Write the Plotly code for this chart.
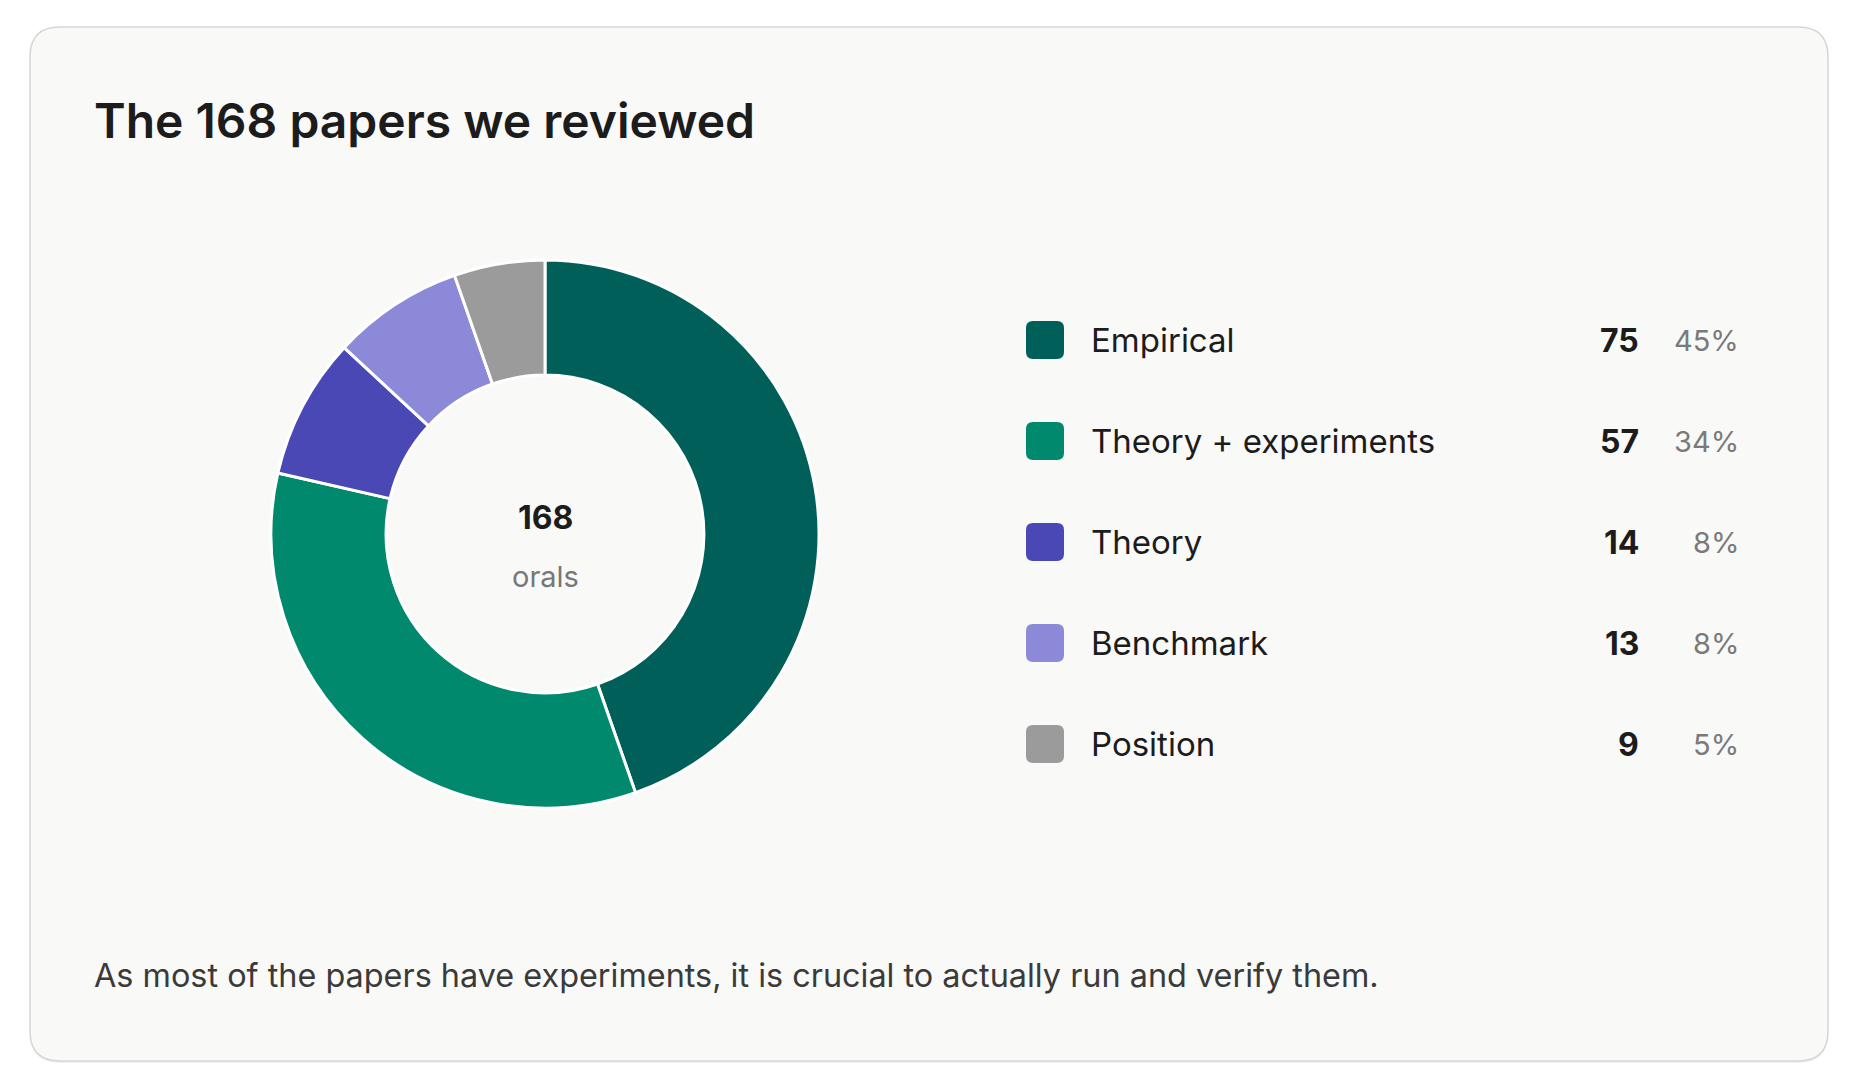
import plotly.graph_objects as go

W, H = 1858, 1092

# ---- data ----
categories = ["Empirical", "Theory + experiments", "Theory", "Benchmark", "Position"]
counts = [75, 57, 14, 13, 9]
colors = ["#015f5a", "#00896d", "#4a48b5", "#8c89d9", "#9b9b9b"]
title_text = "The 168 papers we reviewed"
center_value = "168"
center_label = "orals"
footnote = "As most of the papers have experiments, it is crucial to actually run and verify them."

total = sum(counts)
percents = [f"{round(100 * c / total)}%" for c in counts]

FONT = "Inter, 'Noto Sans', sans-serif"

fig = go.Figure()

# donut geometry (pixels)
cx, cy, r = 545, 534, 274
fig.add_trace(go.Pie(
    labels=categories,
    values=counts,
    marker=dict(colors=colors, line=dict(color="#ffffff", width=3)),
    hole=0.58,
    sort=False,
    direction="clockwise",
    rotation=0,
    textinfo="none",
    hoverinfo="label+value+percent",
    showlegend=False,
    domain=dict(x=[(cx - r) / W, (cx + r) / W], y=[1 - (cy + r) / H, 1 - (cy - r) / H]),
))

def rounded_rect(x0, y0, x1, y1, rad):
    return (f"M {x0+rad},{y0} L {x1-rad},{y0} Q {x1},{y0} {x1},{y0+rad} "
            f"L {x1},{y1-rad} Q {x1},{y1} {x1-rad},{y1} L {x0+rad},{y1} "
            f"Q {x0},{y1} {x0},{y1-rad} L {x0},{y0+rad} Q {x0},{y0} {x0+rad},{y0} Z")

shapes = []
# card shadow + card
shapes.append(dict(type="path", xref="x", yref="y", layer="below",
                   path=rounded_rect(30, 29, 1828, 1063, 30),
                   fillcolor="rgba(0,0,0,0.06)", line=dict(width=0)))
shapes.append(dict(type="path", xref="x", yref="y", layer="below",
                   path=rounded_rect(30, 27, 1828, 1061, 30),
                   fillcolor="#f9f9f8", line=dict(color="#d6d6d6", width=1.5)))

annotations = []
annotations.append(dict(x=96, y=120, xref="x", yref="y", text=title_text, showarrow=False,
                        xanchor="left", yanchor="middle", xshift=-4,
                        font=dict(family=FONT, size=48, color="#1c1c1c", weight=600)))
annotations.append(dict(x=cx, y=517, xref="x", yref="y", text=center_value, showarrow=False,
                        xanchor="center", yanchor="middle",
                        font=dict(family=FONT, size=32, color="#1c1c1c", weight=700)))
annotations.append(dict(x=cx, y=576, xref="x", yref="y", text=center_label, showarrow=False,
                        xanchor="center", yanchor="middle",
                        font=dict(family=FONT, size=29, color="#777777")))
annotations.append(dict(x=96, y=975, xref="x", yref="y", text=footnote, showarrow=False,
                        xanchor="left", yanchor="middle", xshift=-4,
                        font=dict(family=FONT, size=32.4, color="#3a3a3a")))

# legend rows
row0, row_gap = 340, 101
sw_x0, sw_size = 1026, 38
for i, (cat, cnt, pct, col) in enumerate(zip(categories, counts, percents, colors)):
    yc = row0 + i * row_gap
    shapes.append(dict(type="path", xref="x", yref="y",
                       path=rounded_rect(sw_x0, yc - sw_size / 2, sw_x0 + sw_size, yc + sw_size / 2, 7),
                       fillcolor=col, line=dict(width=0)))
    annotations.append(dict(x=1093, y=yc, xref="x", yref="y", text=cat, showarrow=False,
                            xanchor="left", yanchor="middle", xshift=-4,
                            font=dict(family=FONT, size=33, color="#1c1c1c")))
    annotations.append(dict(x=1638, y=yc, xref="x", yref="y", text=str(cnt), showarrow=False,
                            xanchor="right", yanchor="middle", xshift=3,
                            font=dict(family=FONT, size=32, color="#1c1c1c", weight=700)))
    annotations.append(dict(x=1737, y=yc, xref="x", yref="y", text=pct, showarrow=False,
                            xanchor="right", yanchor="middle", xshift=4,
                            font=dict(family=FONT, size=29, color="#7a7a7a")))

fig.update_layout(
    width=W, height=H,
    margin=dict(l=0, r=0, t=0, b=0),
    paper_bgcolor="#ffffff",
    plot_bgcolor="rgba(0,0,0,0)",
    xaxis=dict(range=[0, W], visible=False, fixedrange=True, domain=[0, 1]),
    yaxis=dict(range=[H, 0], visible=False, fixedrange=True, domain=[0, 1]),
    shapes=shapes,
    annotations=annotations,
    showlegend=False,
)

fig.write_html("out.html", config={"displayModeBar": False})
